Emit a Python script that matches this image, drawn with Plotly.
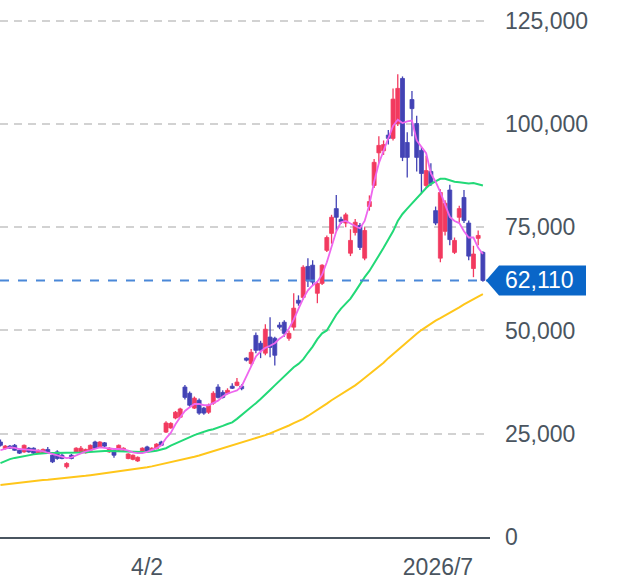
import plotly.graph_objects as go

# ---- data ----
opens = [23000,21400,22000,22200,21000,20600,21500,21500,20400,20400,21200,19800,20600,19800,17000,19800,20600,20600,20400,21000,
         23000,21800,22800,20600,21000,21000,21000,19000,18800,18400,20600,21800,21000,21400,23000,
         25400,26400,28800,29000,36300,34800,31200,33100,31200,30200,32400,36300,35000,34800,36500,36700,36500,43300,42000,48800,
         46900,44500,48400,48100,51300,52000,48100,50800,57300,58000,65500,65800,59000,
         61400,69400,73500,79500,76900,76000,68700,73700,75400,67500,80000,85100,93000,93500,97300,96500,100100,111000,95500,
         105900,100100,93600,85100,88500,79000,67500,74000,84000,68900,77400,82200,76000,65000,72300,68900]
highs = [23600,22300,22300,22500,21200,22400,21800,21700,21200,21400,21800,20300,21000,20200,18100,20100,21700,22000,21400,22400,
         23300,23200,23000,21700,21200,22400,21700,20300,20000,19500,21700,22100,21700,22700,23300,
         28000,27800,30500,31300,36800,35200,34000,33500,31500,32300,35300,37000,35500,36000,37200,38500,37000,43500,45500,49500,
         47500,51500,53200,48500,52000,52500,50000,59000,58500,65800,67500,67000,62000,
         66000,73000,78000,82800,77500,78500,74500,77000,76000,75000,82700,91500,97000,96000,98500,108600,112000,111500,98000,
         108000,102000,94500,92300,90500,80000,84200,81500,85300,72500,80200,84000,76600,70500,74200,69200]
lows = [21900,21200,21300,20900,20100,20400,20400,20100,20200,20200,20300,17900,18700,18800,16600,18800,20400,20400,20200,20800,
        21300,21600,21800,20400,19200,20800,20800,18800,18600,18200,20400,20600,20800,21200,22000,
        25200,26200,28500,28800,33300,31500,31000,29600,29600,29800,32000,33500,33500,34500,35800,36500,35500,42500,41500,44500,
        43300,44000,43500,41500,50300,48500,47500,50000,56000,57500,60500,61000,56600,
        61000,69000,71000,74200,75800,75000,68000,73000,69500,67000,79000,84500,90500,92500,95000,96000,99500,91000,87000,
        97000,88500,83000,84500,85000,75500,66500,73000,70600,68500,76000,76000,67000,62900,70600,61800]
closes = [22200,22000,21500,21000,20300,22200,20600,20300,21000,21200,20600,18200,19000,19000,17800,19000,21500,21500,21200,22200,
          21500,23000,22000,21500,19800,22200,21500,20100,19800,19300,21500,20800,21500,22500,22200,
          27600,27500,30200,31000,33800,31900,33600,30000,30000,31900,34800,33800,33800,35500,36000,37500,35900,42800,44700,45200,
          45200,50300,45900,44000,50800,49300,49300,55400,56600,65300,62000,61700,61400,
          65800,72500,77400,77400,76300,78000,71800,76200,70100,74200,81200,90700,94800,95000,96500,106000,108600,91900,91900,
          103700,91900,88000,88700,85500,76000,83400,80800,72000,71800,79500,76600,68000,68500,73000,62110]

ma_short = [21000,21400,21700,21600,21300,21200,21100,21000,20900,20800,20400,20100,19800,19400,19100,19300,19800,20300,20700,21000,
            21400,21700,21600,21400,21300,21300,21200,20900,20500,20300,20300,20600,21000,21500,22200,
            23900,25200,27300,29000,30500,31400,32200,32200,31900,31900,32400,33000,34000,34700,35100,35500,36500,39000,41500,43700,
            44900,45800,46300,46900,48000,48800,50500,52600,55200,57700,59700,60900,61800,
            63500,66500,70500,74000,76200,76500,75900,75300,74700,76500,80500,86000,90500,93500,96500,99500,101000,100200,100600,
            100800,96000,94500,92900,88000,86000,83500,80700,77500,76500,76000,74000,72500,72500,70000,68500]
ma_mid = [17900,18400,18850,19150,19400,19650,19850,20000,20150,20300,20350,20350,20350,20300,20300,20350,20400,20450,20500,20600,
          20650,20750,20800,20800,20750,20700,20650,20600,20550,20550,20550,20600,20700,20900,21200,
          21500,22100,22650,23100,23600,24150,24650,25100,25500,25850,26100,26450,26900,27350,27750,28600,29500,30400,31300,32400,
          33400,34400,35600,36700,37800,38900,40000,41100,41900,43000,44600,46100,47900,
          49300,50000,52000,53800,55300,56600,57700,59400,61200,62900,64400,66200,68000,70000,72000,74000,76500,78200,79500,
          80800,82000,83200,84500,85500,86200,86700,86700,86400,86000,85900,85800,85600,85700,85400,85100]
ma_long = [12600,12750,12900,13000,13150,13300,13450,13600,13700,13800,13850,13950,14050,14150,14250,14400,14500,14650,14800,14950,
           15100,15250,15400,15550,15700,15850,16000,16200,16350,16550,16700,16900,17100,17350,17650,
           17950,18150,18350,18550,18800,19150,19450,19750,20100,20450,20750,21050,21350,21700,22050,22450,22850,23250,23600,23950,
           24300,24650,25100,25550,26000,26450,27000,27550,28050,28600,29300,30000,30700,
           31500,32300,33100,33800,34500,35200,35900,36700,37600,38500,39300,40200,41200,42200,43300,44300,45400,46400,47400,
           48300,49200,50100,50900,51700,52400,53000,53600,54200,54900,55600,56300,57000,57700,58200,58800]

tick_idx = [31, 92.5]
tick_text = ["4/2", "2026/7"]
y_ticks = [0, 25000, 50000, 75000, 100000, 125000]
last_price = closes[-1]

idx = list(range(len(closes)))

RED = "#f23a5f"
BLUE = "#4343b5"
TXT = "#4a5560"
FONT = "Arial, Liberation Sans, sans-serif"

fig = go.Figure()

for is_up, color in ((True, RED), (False, BLUE)):
    sel = [i for i in idx if (closes[i] >= opens[i]) == is_up]
    # wicks
    wx, wy = [], []
    for i in sel:
        wx += [i, i, None]
        wy += [lows[i], highs[i], None]
    fig.add_trace(go.Scatter(x=wx, y=wy, mode="lines", line=dict(color=color, width=1.3),
                             hoverinfo="skip", showlegend=False))
    # bodies
    fig.add_trace(go.Bar(
        x=sel,
        base=[min(opens[i], closes[i]) for i in sel],
        y=[abs(closes[i] - opens[i]) for i in sel],
        width=0.84, marker=dict(color=color, line=dict(color=color, width=0.8)),
        hoverinfo="skip", showlegend=False))

fig.add_trace(go.Scatter(x=idx, y=ma_long, mode="lines", line=dict(color="#ffc61a", width=2),
                         hoverinfo="skip", showlegend=False))
fig.add_trace(go.Scatter(x=idx, y=ma_mid, mode="lines", line=dict(color="#22d977", width=2),
                         hoverinfo="skip", showlegend=False))
fig.add_trace(go.Scatter(x=idx, y=ma_short, mode="lines", line=dict(color="#ee66ee", width=1.8),
                         hoverinfo="skip", showlegend=False))

# current price dashed line
fig.add_shape(type="line", xref="paper", x0=0, x1=1, yref="y", y0=last_price, y1=last_price,
              line=dict(color="#4a88d8", width=2, dash="dash"), layer="above")
# current price label (arrow box)
fig.add_shape(type="path", xref="paper", xanchor=1, xsizemode="pixel",
              yref="y", yanchor=last_price, ysizemode="pixel",
              path="M -4 0 L 9 15 L 96 15 L 96 -15 L 9 -15 Z",
              fillcolor="#0a66c8", line=dict(width=0), layer="above")
fig.add_annotation(xref="paper", x=1, y=last_price, yref="y", xanchor="left", yanchor="middle",
                   xshift=13, text=f"{last_price:,}", showarrow=False,
                   font=dict(family=FONT, size=23, color="white"))

fig.update_layout(
    width=620, height=587,
    margin=dict(l=0, r=130, t=0, b=50),
    paper_bgcolor="white", plot_bgcolor="white",
    showlegend=False, hovermode=False, barmode="overlay",
    font=dict(family=FONT, size=23, color=TXT),
    xaxis=dict(range=[-0.1, 103.5],
               showgrid=False, zeroline=False, showline=True, linecolor=TXT, linewidth=2,
               tickmode="array", tickvals=tick_idx, ticktext=tick_text, ticks="",
               ticklabelstandoff=8, tickfont=dict(size=23, color=TXT)),
    yaxis=dict(range=[0, 130000], side="right", tickmode="array", tickvals=y_ticks,
               tickformat=",", showgrid=True, gridcolor="#d2d2d2", gridwidth=2, griddash="8px,6px",
               zeroline=False, showline=False, ticks="", ticklabelstandoff=14,
               tickfont=dict(size=23, color=TXT)),
)

fig.write_html("out.html")
